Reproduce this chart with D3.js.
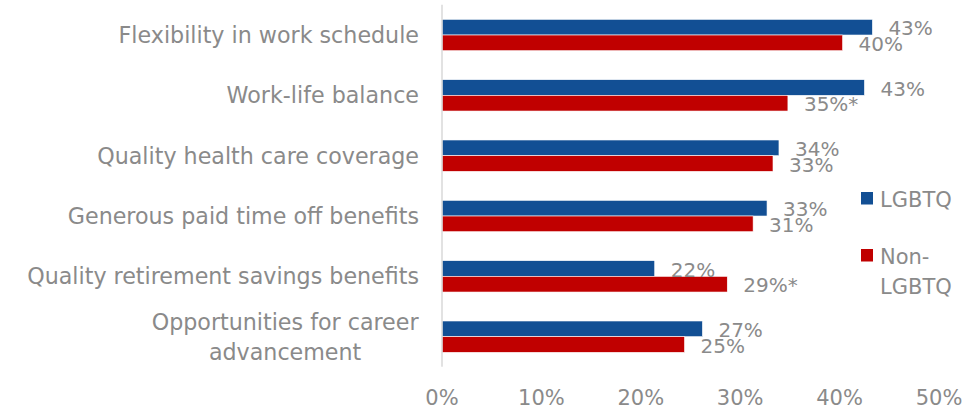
<!DOCTYPE html>
<html>
<head>
<meta charset="utf-8">
<script src="https://cdn.jsdelivr.net/npm/d3@7"></script>
<style>
  html, body { margin: 0; padding: 0; background: #fff; }
  svg { display: block; }
  text { font-family: "DejaVu Sans", sans-serif; fill: #8a8a8a; }
</style>
</head>
<body>
<svg id="chart" width="966" height="410"></svg>
<script>
// ---- data ----
const categories = [
  ["Flexibility in work schedule"],
  ["Work-life balance"],
  ["Quality health care coverage"],
  ["Generous paid time off benefits"],
  ["Quality retirement savings benefits"],
  ["Opportunities for career", "advancement"]
];
const seriesNames = ["LGBTQ", "Non-LGBTQ"];
const lgbtqValues = [43.3, 42.5, 33.9, 32.7, 21.4, 26.2];
const nonLgbtqValues = [40.3, 34.8, 33.3, 31.3, 28.7, 24.4];
const lgbtqLabels = ["43%", "43%", "34%", "33%", "22%", "27%"];
const nonLgbtqLabels = ["40%", "35%*", "33%", "31%", "29%*", "25%"];
const tickValues = [0, 10, 20, 30, 40, 50];
const colors = ["#124F94", "#C00000"];

// ---- layout ----
const svg = d3.select("#chart");
const x = d3.scaleLinear().domain([0, 50]).range([442, 939]);
const catIdx = categories.map((d, i) => i);
const y = d3.scaleBand().domain(catIdx).range([4.85, 366.85]).paddingInner(0.48).paddingOuter(0.24);
const sub = d3.scaleBand().domain([0, 1]).range([0, y.bandwidth()]);

const series = [
  { values: lgbtqValues, labels: lgbtqLabels },
  { values: nonLgbtqValues, labels: nonLgbtqLabels }
];

// bars
series.forEach((s, si) => {
  svg.append("g").selectAll("rect")
    .data(s.values)
    .join("rect")
    .attr("x", x(0))
    .attr("y", (d, i) => y(i) + sub(si))
    .attr("width", d => x(d) - x(0))
    .attr("height", sub.bandwidth())
    .attr("fill", colors[si])
    .attr("stroke", "#ffffff")
    .attr("stroke-width", 0.6);
});

// axis line
svg.append("line")
  .attr("x1", x(0)).attr("x2", x(0))
  .attr("y1", y.range()[0]).attr("y2", y.range()[1])
  .attr("stroke", "#d9d9d9").attr("stroke-width", 1.5);

// data labels
series.forEach((s, si) => {
  svg.append("g").selectAll("text")
    .data(s.values)
    .join("text")
    .attr("x", d => x(d) + 16)
    .attr("y", (d, i) => y(i) + sub(si) + sub.bandwidth() / 2 + 8)
    .attr("font-size", 20)
    .text((d, i) => s.labels[i]);
});

// category labels
const catG = svg.append("g");
categories.forEach((lines, i) => {
  const cy = y(i) + y.bandwidth() / 2;
  if (lines.length === 1) {
    catG.append("text")
      .attr("x", 419).attr("y", cy + 8)
      .attr("text-anchor", "end")
      .attr("font-size", 22.2)
      .text(lines[0]);
  } else {
    const t = catG.append("text").attr("font-size", 22.2).attr("text-anchor", "middle");
    lines.forEach((ln, j) => {
      t.append("tspan").attr("x", 0).attr("y", cy - 7 + j * 30).text(ln);
    });
    const w = t.node().getBBox().width;
    t.selectAll("tspan").attr("x", 419 - w / 2);
  }
});

// x tick labels
svg.append("g").selectAll("text")
  .data(tickValues)
  .join("text")
  .attr("x", d => x(d))
  .attr("y", 405)
  .attr("text-anchor", "middle")
  .attr("font-size", 21)
  .text(d => d + "%");

// legend
const legend = svg.append("g");
const legendRows = [
  { y: 192, lines: ["LGBTQ"] },
  { y: 249, lines: ["Non-", "LGBTQ"] }
];
legendRows.forEach((r, i) => {
  legend.append("rect")
    .attr("x", 861).attr("y", r.y)
    .attr("width", 12).attr("height", 12.5)
    .attr("fill", colors[i]);
  const t = legend.append("text").attr("font-size", 21);
  r.lines.forEach((ln, j) => {
    t.append("tspan").attr("x", 880).attr("y", r.y + 14.5 + j * 30).text(ln);
  });
});
</script>
</body>
</html>
